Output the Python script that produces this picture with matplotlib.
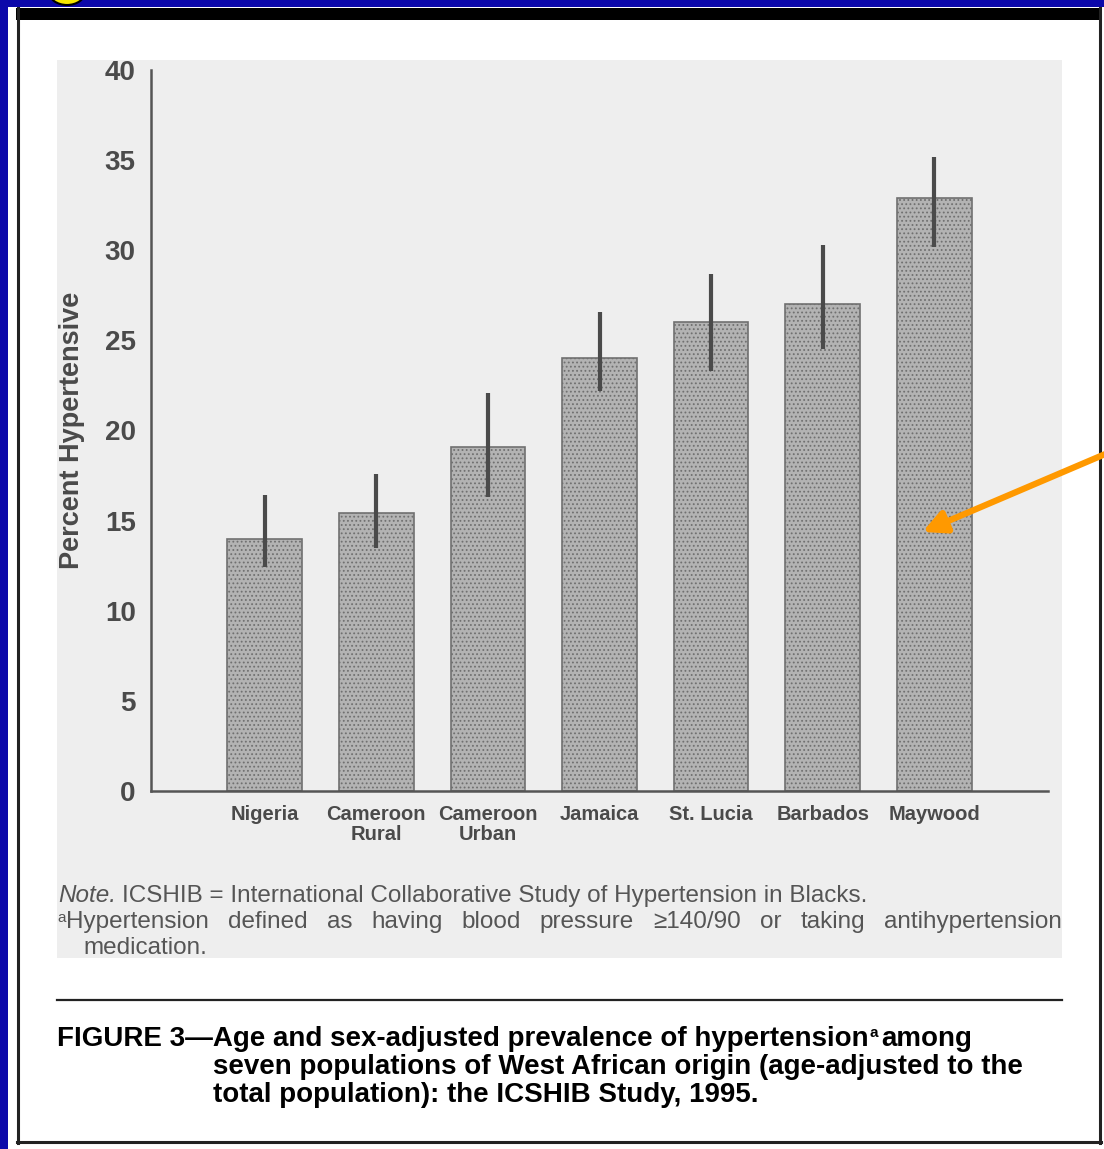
import matplotlib
matplotlib.use('Agg')
import matplotlib.pyplot as plt
from matplotlib.patches import Rectangle, Ellipse, FancyArrowPatch

# Age and sex-adjusted prevalence of hypertension, ICSHIB 1995
sites = ['Nigeria', 'Cameroon\nRural', 'Cameroon\nUrban', 'Jamaica',
         'St. Lucia', 'Barbados', 'Maywood']
prevalence = [14.0, 15.4, 19.1, 24.0, 26.0, 27.0, 32.9]
ci_low = [12.4, 13.5, 16.3, 22.2, 23.3, 24.5, 30.2]
ci_high = [16.4, 17.6, 22.1, 26.6, 28.7, 30.3, 35.2]
yticks = [0, 5, 10, 15, 20, 25, 30, 35, 40]

note_1 = 'ICSHIB = International Collaborative Study of Hypertension in Blacks.'
note_2 = 'Hypertension defined as having blood pressure \u2265140/90 or taking antihypertension'
note_3 = 'medication.'
caption = ['FIGURE 3\u2014Age and sex-adjusted prevalence of hypertension',
           'seven populations of West African origin (age-adjusted to the',
           'total population): the ICSHIB Study, 1995.']

W, H = 1104, 1149
GREY_TXT = '#4a4a4a'
plt.rcParams['font.family'] = ['Liberation Sans', 'DejaVu Sans']


def fx(x):
    return x / W


def fy(y):
    return 1 - y / H


def rect(x0, y0, x1, y1, **kw):
    fig.add_artist(Rectangle((fx(x0), fy(y1)), fx(x1) - fx(x0), fy(y0) - fy(y1),
                             transform=fig.transFigure, **kw))


def hline(x0, x1, y, **kw):
    fig.add_artist(plt.Line2D([fx(x0), fx(x1)], [fy(y), fy(y)], transform=fig.transFigure, **kw))


def vline(x, y0, y1, **kw):
    fig.add_artist(plt.Line2D([fx(x), fx(x)], [fy(y0), fy(y1)], transform=fig.transFigure, **kw))


def width_px(s, **kw):
    t = fig.text(0, 0, s, **kw)
    w = t.get_window_extent(renderer).width
    t.remove()
    return w


fig = plt.figure(figsize=(W / 100, H / 100), dpi=100, facecolor='#0c08aa')
renderer = fig.canvas.get_renderer()

# page, frame and shaded plate
rect(8, 7, W, H, facecolor='white', edgecolor='none', zorder=0)
fig.add_artist(Ellipse((fx(67), fy(-8)), fx(36), 26 / H, transform=fig.transFigure,
                       facecolor='#f5e600', edgecolor='black', lw=1.5, zorder=1))
rect(16, 8, 1100, 20, facecolor='black', edgecolor='none', zorder=1)
vline(18, 8, 1143, color='#222222', lw=2.2)
vline(1100, 8, 1143, color='#222222', lw=2.2)
hline(17, 1101, 1142, color='#222222', lw=2.2)
rect(57, 60, 1062, 958, facecolor='#eeeeee', edgecolor='none', zorder=0.5)
hline(57, 1062, 1000, color='#222222', lw=1.6)

# bar chart
ax = fig.add_axes([fx(151), fy(791), fx(1048) - fx(151), fy(70) - fy(791)])
ax.set_zorder(3)
ax.set_facecolor('none')
x = list(range(len(sites)))
plt.rcParams['hatch.color'] = '#8c8c8c'
plt.rcParams['hatch.linewidth'] = 0.8
ax.bar(x, prevalence, width=0.67, color='#b3b3b3', edgecolor='#707070',
       linewidth=1.2, hatch='....', zorder=2)
err = [[p - lo for p, lo in zip(prevalence, ci_low)],
       [hi - p for p, hi in zip(prevalence, ci_high)]]
ax.errorbar(x, prevalence, yerr=err, fmt='none', ecolor='#4a4a4a',
            elinewidth=3, capsize=0, zorder=3)

ax.set_xlim(-1.02, 7.02)
ax.set_ylim(0, 40)
ax.set_yticks(yticks)
ax.set_xticks(x)
ax.set_xticklabels(sites, fontsize=14.5, fontweight='bold', color=GREY_TXT,
                   linespacing=1.05)
ax.tick_params(axis='y', length=0, pad=11, labelsize=20, labelcolor=GREY_TXT)
ax.tick_params(axis='x', length=0, pad=10)
for lbl in ax.get_yticklabels():
    lbl.set_fontweight('bold')
ax.set_ylabel('Percent Hypertensive', fontsize=19.5, fontweight='bold',
              color=GREY_TXT, labelpad=14)
for side in ['top', 'right']:
    ax.spines[side].set_visible(False)
for side in ['left', 'bottom']:
    ax.spines[side].set_color('#555555')
    ax.spines[side].set_linewidth(1.8)

# notes under the plate
NFS = 17.5
note_kw = dict(fontsize=NFS, color='#555555', va='baseline')
fig.text(fx(58), fy(902), 'Note.', style='italic', **note_kw)
fig.text(fx(58) + (width_px('Note.', style='italic', fontsize=NFS) + 6) / W, fy(902),
         note_1, **note_kw)
fig.text(fx(57), fy(922), 'a', fontsize=11, color='#555555', va='baseline')
words = note_2.split()
x0, x1 = 66, 1062
ws = [width_px(w, fontsize=NFS) for w in words]
gap = (x1 - x0 - sum(ws)) / (len(words) - 1)
pos = x0
for w, wd in zip(words, ws):
    fig.text(fx(pos), fy(928), w, **note_kw)
    pos += wd + gap
fig.text(fx(83), fy(954), note_3, **note_kw)

# figure caption
CFS = 20
cap_kw = dict(fontsize=CFS, fontweight='bold', color='black', va='baseline')
fig.text(fx(57), fy(1046), caption[0], **cap_kw)
cw = width_px(caption[0], fontsize=CFS, fontweight='bold')
fig.text(fx(57) + (cw + 1) / W, fy(1037), 'a', fontsize=11, fontweight='bold',
         color='black', va='baseline')
fig.text(fx(57) + (cw + 13) / W, fy(1046), 'among', **cap_kw)
fig.text(fx(213), fy(1074), caption[1], **cap_kw)
fig.text(fx(213), fy(1102), caption[2], **cap_kw)

# orange pointer onto the Maywood bar
fig.add_artist(FancyArrowPatch((fx(1110), fy(452)), (fx(920), fy(533)),
                               transform=fig.transFigure, arrowstyle='-|>',
                               mutation_scale=34, color='#ff9900', lw=4.5, zorder=10))

fig.savefig('out.png', dpi=100, facecolor=fig.get_facecolor())
